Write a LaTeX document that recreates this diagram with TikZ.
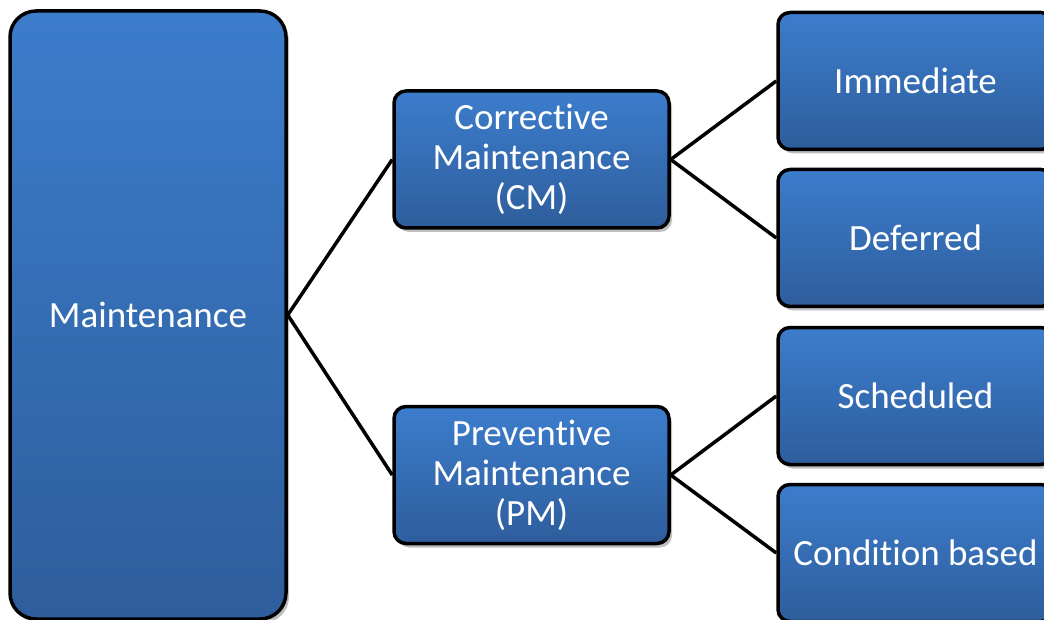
\documentclass[tikz,border=0pt]{standalone}
\usepackage{fontspec}
\setmainfont[Ligatures=CommonOff]{Carlito}
\usetikzlibrary{shadows}
\definecolor{boxtop}{HTML}{3C7DCC}
\definecolor{boxbot}{HTML}{2E5D9C}
\tikzset{
  box/.style={draw=black, line width=3.5pt, rounded corners=12pt,
    top color=boxtop, bottom color=boxbot, text=white,
    align=center, inner sep=0pt,
    font=\fontsize{37}{40}\selectfont,
    drop shadow={shadow xshift=3pt, shadow yshift=-4pt, opacity=0.25, fill=black}},
  link/.style={draw=black, line width=3.5pt}
}
\begin{document}
\begin{tikzpicture}[x=1pt, y=-1pt]
  \useasboundingbox (0,0) rectangle (1044,620);
  \clip (0,0) rectangle (1044,620);
  % root
  \node[box, rounded corners=26pt, minimum width=276pt, minimum height=608pt] (root) at (148,315) {Maintenance};
  % second level
  \node[box, minimum width=275pt, minimum height=137pt] (cm) at (531.5,159.5) {Corrective\\Maintenance\\(CM)};
  \node[box, minimum width=275pt, minimum height=137pt] (pm) at (531.5,475) {Preventive\\Maintenance\\(PM)};
  % leaves
  \node[box, minimum width=275pt, minimum height=137pt] (imm) at (915.5,81) {Immediate};
  \node[box, minimum width=275pt, minimum height=137pt] (def) at (915.5,238) {Deferred};
  \node[box, minimum width=275pt, minimum height=137pt] (sch) at (915.5,396) {Scheduled};
  \node[box, minimum width=275pt, minimum height=137pt] (cbm) at (915.5,553) {Condition based};
  % connectors
  \draw[link] (root.east) -- (cm.west);
  \draw[link] (root.east) -- (pm.west);
  \draw[link] (cm.east) -- (imm.west);
  \draw[link] (cm.east) -- (def.west);
  \draw[link] (pm.east) -- (sch.west);
  \draw[link] (pm.east) -- (cbm.west);
\end{tikzpicture}
\end{document}
